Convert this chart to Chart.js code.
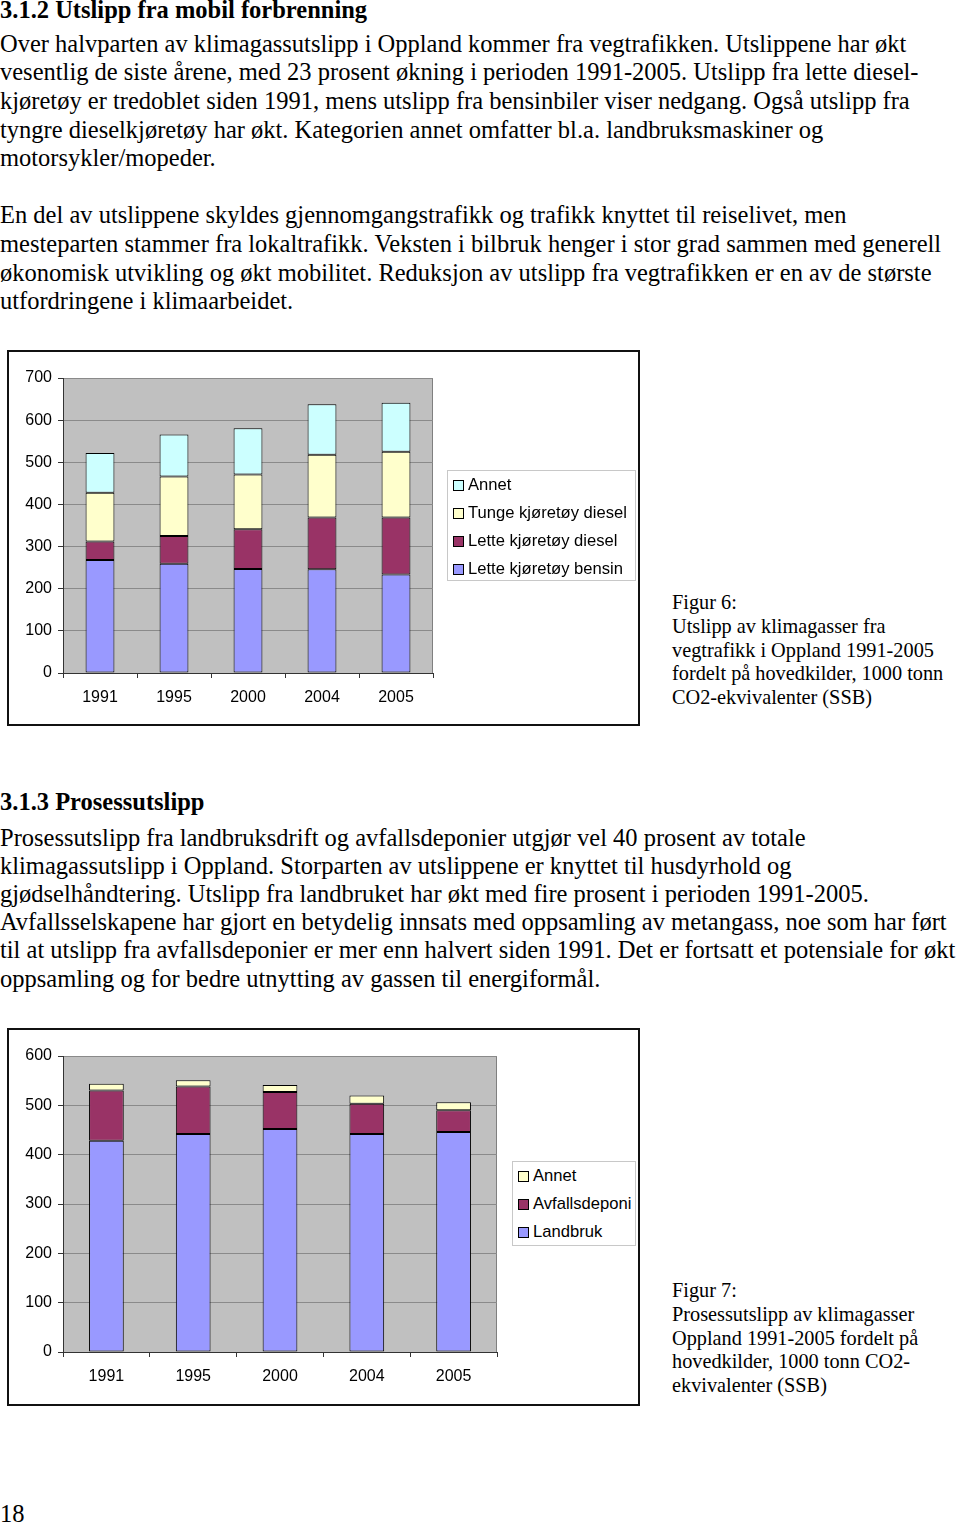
<!DOCTYPE html>
<html>
<head>
<meta charset="utf-8">
<script src="https://cdn.jsdelivr.net/npm/chart.js@4.4.0/dist/chart.umd.min.js"></script>
<style>
  body { margin: 0; width: 960px; height: 1525px; position: relative; overflow: hidden; background: #fff; color: #000; font-family: 'Liberation Serif', serif; }
  .t { position: absolute; left: 0; white-space: nowrap; font-size: 24.5px; line-height: 28px; }
  .h { font-weight: bold; }
  .frame { position: absolute; left: 7px; width: 633px; border: 2px solid #111; box-sizing: border-box; }
  .frame canvas { position: absolute; left: 0; top: 0; }
  .legend { position: absolute; border: 1px solid #c8c8c8; background: #fff; font-family: 'Liberation Sans', sans-serif; font-size: 16.6px; }
  .legend div { position: relative; height: 28px; line-height: 28px; padding-left: 20px; white-space: nowrap; }
  .legend span { position: absolute; left: 5px; top: 9px; width: 9px; height: 9px; border: 1px solid #000; }
  .cap { position: absolute; left: 672px; font-size: 20.3px; line-height: 23.8px; white-space: nowrap; }
</style>
</head>
<body>

<div class="t h" style="top:-4px">3.1.2 Utslipp fra mobil forbrenning</div>
<div class="t" style="top:30px">Over halvparten av klimagassutslipp i Oppland kommer fra vegtrafikken. Utslippene har økt</div>
<div class="t" style="top:58px">vesentlig de siste årene, med 23 prosent økning i perioden 1991-2005. Utslipp fra lette diesel-</div>
<div class="t" style="top:87px">kjøretøy er tredoblet siden 1991, mens utslipp fra bensinbiler viser nedgang. Også utslipp fra</div>
<div class="t" style="top:116px">tyngre dieselkjøretøy har økt. Kategorien annet omfatter bl.a. landbruksmaskiner og</div>
<div class="t" style="top:144px">motorsykler/mopeder.</div>

<div class="t" style="top:201px">En del av utslippene skyldes gjennomgangstrafikk og trafikk knyttet til reiselivet, men</div>
<div class="t" style="top:230px">mesteparten stammer fra lokaltrafikk. Veksten i bilbruk henger i stor grad sammen med generell</div>
<div class="t" style="top:259px">økonomisk utvikling og økt mobilitet. Reduksjon av utslipp fra vegtrafikken er en av de største</div>
<div class="t" style="top:287px">utfordringene i klimaarbeidet.</div>

<div class="frame" style="top:350px; height:376px">
  <canvas id="chart1" width="629" height="372"></canvas>
</div>
<div class="legend" id="legend1" style="left:447px; top:470px; width:187px; height:109px"></div>
<div class="cap" style="top:591px">Figur 6:<br>Utslipp av klimagasser fra<br>vegtrafikk i Oppland 1991-2005<br>fordelt på hovedkilder, 1000 tonn<br>CO2-ekvivalenter (SSB)</div>

<div class="t h" style="top:788px">3.1.3 Prosessutslipp</div>
<div class="t" style="top:824px">Prosessutslipp fra landbruksdrift og avfallsdeponier utgjør vel 40 prosent av totale</div>
<div class="t" style="top:852px">klimagassutslipp i Oppland. Storparten av utslippene er knyttet til husdyrhold og</div>
<div class="t" style="top:880px">gjødselhåndtering. Utslipp fra landbruket har økt med fire prosent i perioden 1991-2005.</div>
<div class="t" style="top:908px">Avfallsselskapene har gjort en betydelig innsats med oppsamling av metangass, noe som har ført</div>
<div class="t" style="top:936px">til at utslipp fra avfallsdeponier er mer enn halvert siden 1991. Det er fortsatt et potensiale for økt</div>
<div class="t" style="top:965px">oppsamling og for bedre utnytting av gassen til energiformål.</div>

<div class="frame" style="top:1028px; height:378px">
  <canvas id="chart2" width="629" height="374"></canvas>
</div>
<div class="legend" id="legend2" style="left:512px; top:1161px; width:122px; height:83px"></div>
<div class="cap" style="top:1279px">Figur 7:<br>Prosessutslipp av klimagasser<br>Oppland 1991-2005 fordelt på<br>hovedkilder, 1000 tonn CO2-<br>ekvivalenter (SSB)</div>

<div class="t" style="top:1500px">18</div>

<script>
// Figur 6 data, 1000 tonn CO2-ekv.
let years = ['1991', '1995', '2000', '2004', '2005'];

let letteBensin = [268, 259, 247, 246, 234];
let letteDiesel = [44, 66, 94, 123, 135];
let tungeDiesel = [116, 141, 130, 149, 156];
let annetVeg = [94, 100, 110, 120, 116];

let vegLabels = ['Lette kjøretøy bensin', 'Lette kjøretøy diesel', 'Tunge kjøretøy diesel', 'Annet'];
let vegTicks = [0, 100, 200, 300, 400, 500, 600, 700];

// Figur 7 data
let landbruk = [428, 442, 452, 442, 446];
let avfallsdeponi = [102, 96, 75, 61, 44];
let annetProsess = [14, 13, 14, 17, 16];

let prosessLabels = ['Landbruk', 'Avfallsdeponi', 'Annet'];
let prosessTicks = [0, 100, 200, 300, 400, 500, 600];

let blue = '#9999ff';
let plum = '#993366';
let ivory = '#ffffcc';
let cyan = '#ccffff';

let axisFont = { family: 'Liberation Sans', size: 16 };

// grey plot area like old excel charts
let plotBackground = {
  id: 'plotBackground',
  beforeDraw(chart) {
    let a = chart.chartArea;
    let c = chart.ctx;
    c.save();
    c.fillStyle = '#c0c0c0';
    c.fillRect(a.left, a.top, a.right - a.left, a.bottom - a.top);
    c.strokeStyle = '#808080';
    c.lineWidth = 1;
    c.strokeRect(a.left + 0.5, a.top + 0.5, a.right - a.left - 1, a.bottom - a.top);
    c.restore();
  },
};

function makeDatasets(labels, series, colors, barPct) {
  let sets = [];
  for (let i = 0; i < labels.length; i++) {
    sets.push({
      label: labels[i],
      data: series[i],
      backgroundColor: colors[i],
      borderColor: '#000',
      borderWidth: 1,
      borderSkipped: false,
      categoryPercentage: 1,
      barPercentage: barPct,
    });
  }
  return sets;
}

function makeChart(id, datasets, ticks, padRight, xHeight) {
  let ctx = document.getElementById(id).getContext('2d');
  return new Chart(ctx, {
    type: 'bar',
    data: { labels: years, datasets: datasets },
    plugins: [plotBackground],
    options: {
      responsive: false,
      animation: false,
      layout: { padding: { top: 26, right: padRight, left: 0, bottom: 0 } },
      plugins: { legend: { display: false }, tooltip: { enabled: false } },
      scales: {
        x: {
          stacked: true,
          grid: { drawOnChartArea: false, tickLength: 5, color: '#333', offset: true },
          border: { color: '#333' },
          ticks: { color: '#000', font: axisFont, padding: 10 },
          afterFit: (s) => { s.height = xHeight; },
        },
        y: {
          stacked: true,
          min: ticks[0],
          max: ticks[ticks.length - 1],
          afterBuildTicks: (s) => { s.ticks = ticks.map((v) => ({ value: v })); },
          grid: { color: '#8a8a8a', tickColor: '#333', tickLength: 5 },
          border: { color: '#333' },
          ticks: { color: '#000', font: axisFont, padding: 6 },
          afterFit: (s) => { s.width = 54; },
        },
      },
    },
  });
}

function addLegend(id, datasets) {
  let node = document.getElementById(id);
  for (let i = datasets.length - 1; i >= 0; i--) {
    node.insertAdjacentHTML(
      'beforeend',
      '<div><span style="background:' + datasets[i].backgroundColor + '"></span>' + datasets[i].label + '</div>'
    );
  }
}

let vegSets = makeDatasets(vegLabels, [letteBensin, letteDiesel, tungeDiesel, annetVeg], [blue, plum, ivory, cyan], 0.39);
makeChart('chart1', vegSets, vegTicks, 205, 51);
addLegend('legend1', vegSets);

let prosessSets = makeDatasets(prosessLabels, [landbruk, avfallsdeponi, annetProsess], [blue, plum, ivory], 0.4);
makeChart('chart2', prosessSets, prosessTicks, 141, 52);
addLegend('legend2', prosessSets);
</script>
</body>
</html>
